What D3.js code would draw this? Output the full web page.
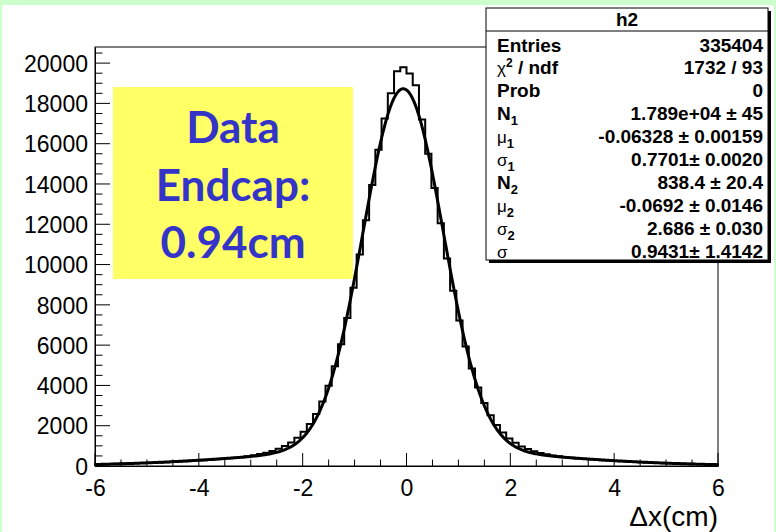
<!DOCTYPE html>
<html><head><meta charset="utf-8">
<script src="https://cdn.jsdelivr.net/npm/d3@7"></script>
<style>body{margin:0;background:#fff}svg{display:block}</style>
</head><body>
<svg id="c" width="776" height="532"></svg>
<script>
// ---- data ----
const xRange = [-6, 6];
const counts = [95, 98, 105, 112, 118, 126, 134, 143, 154, 165,
  176, 190, 206, 220, 236, 255, 272, 290, 310, 335,
  355, 380, 410, 440, 480, 530, 590, 660, 750, 860,
  990, 1170, 1400, 1700, 2080, 2580, 3200, 3990, 4950, 6050,
  7350, 8850, 10500, 12200, 13950, 15700, 17250, 18500, 19600, 19800,
  19490, 18900, 17200, 15500, 13800, 12050, 10300, 8700, 7220, 5930,
  4840, 3900, 3130, 2520, 2030, 1660, 1370, 1150, 970, 840,
  735, 650, 580, 525, 478, 438, 405, 377, 352, 330,
  308, 289, 270, 252, 235, 219, 204, 189, 176, 164,
  152, 142, 133, 124, 116, 109, 102, 96, 90, 86];
const fitN = [17890, 838.4];
const fitMu = [-0.06328, -0.0692];
const fitSigma = [0.7701, 2.686];
const xTicks = [-6, -4, -2, 0, 2, 4, 6];
const yTicks = [0, 2000, 4000, 6000, 8000, 10000, 12000, 14000, 16000, 18000, 20000];
const statTitle = "h2";
const statLabels = [["Entries",""],["χ","2","/ ndf"],["Prob",""],["N","1"],["μ","1"],["σ","1"],["N","2"],["μ","2"],["σ","2"],["σ",""]];
const statValues = ["335404","1732 / 93","0","1.789e+04 ± 45","-0.06328 ± 0.00159","0.7701± 0.0020","838.4 ± 20.4","-0.0692 ± 0.0146","2.686 ± 0.030","0.9431± 1.4142"];
const noteLines = ["Data", "Endcap:", "0.94cm"];
const xTitle = "Δx(cm)";

// ---- drawing ----
const svg = d3.select("#c");
const W = 776, H = 532;
const L = 95, R = 718, T = 47, B = 466;
const x = d3.scaleLinear().domain(xRange).range([L, R]);
const y = d3.scaleLinear().domain([0, 20800]).range([B, T]);
const font = "'Liberation Sans', Arial, Helvetica, sans-serif";

svg.append("rect").attr("width", W).attr("height", H).attr("fill", "#fff");
// green slide border
svg.append("rect").attr("x", 0).attr("y", 0).attr("width", W).attr("height", 5).attr("fill", "#ccffcc");
svg.append("rect").attr("x", 0).attr("y", 0).attr("width", 2).attr("height", H).attr("fill", "#ccffcc");
svg.append("rect").attr("x", W - 2).attr("y", 0).attr("width", 2).attr("height", H).attr("fill", "#ccffcc");

// frame
svg.append("rect").attr("x", L).attr("y", T).attr("width", R - L).attr("height", B - T)
  .attr("fill", "none").attr("stroke", "#000").attr("stroke-width", 1);

// axes
const xAxis = d3.axisBottom(x).tickValues(xTicks).tickSize(0).tickFormat(d => String(d));
const gx = svg.append("g").attr("transform", `translate(0,${B})`).call(xAxis);
gx.select(".domain").attr("stroke", "#000");
gx.selectAll("text").attr("font-family", font).attr("font-size", 23).attr("fill", "#000").attr("dy", 0).attr("y", 30);
const xMinor = d3.range(xRange[0], xRange[1] + 0.001, 0.5);
svg.append("g").selectAll("line").data(xMinor).join("line")
  .attr("x1", d => x(d)).attr("x2", d => x(d))
  .attr("y1", B).attr("y2", d => B - (Math.abs(d % 2) < 1e-9 ? 13 : 6.5))
  .attr("stroke", "#000").attr("stroke-width", 1);

const yAxis = d3.axisLeft(y).tickValues(yTicks).tickSize(0).tickFormat(d => String(d));
const gy = svg.append("g").attr("transform", `translate(${L},0)`).call(yAxis);
gy.select(".domain").attr("stroke", "#000");
gy.selectAll("text").attr("font-family", font).attr("font-size", 23).attr("fill", "#000").attr("x", -7).attr("dy", "0.36em");
const yMinor = d3.range(0, 20800, 500);
svg.append("g").selectAll("line").data(yMinor).join("line")
  .attr("y1", d => y(d)).attr("y2", d => y(d))
  .attr("x1", L).attr("x2", d => L + (d % 2000 === 0 ? 15 : 7.5))
  .attr("stroke", "#000").attr("stroke-width", 1);

svg.append("text").attr("x", R).attr("y", 526).attr("text-anchor", "end")
  .attr("font-family", font).attr("font-size", 28).text(xTitle);

// yellow note box
const note = svg.append("g");
note.append("rect").attr("x", 113).attr("y", 87).attr("width", 240).attr("height", 192).attr("fill", "#ffff66");
note.selectAll("text").data(noteLines).join("text")
  .attr("x", 233).attr("y", (d, i) => 143 + i * 57.5).attr("text-anchor", "middle")
  .attr("font-family", "Lato, 'Open Sans', sans-serif").attr("font-weight", "bold")
  .attr("font-size", 44).attr("fill", "#3434c8").text(d => d);

// histogram
const nb = counts.length;
const bw = (xRange[1] - xRange[0]) / nb;
const pts = [[x(xRange[0]), y(0)]];
counts.forEach((c, i) => {
  const x0 = xRange[0] + i * bw, x1 = x0 + bw;
  pts.push([x(x0), y(c)]); pts.push([x(x1), y(c)]);
});
pts.push([x(xRange[1]), y(0)]);
svg.append("path").attr("d", d3.line()(pts)).attr("fill", "none")
  .attr("stroke", "#000").attr("stroke-width", 2);

// fit function (double gaussian from fit parameters)
const f = v => fitN.reduce((s, n, k) => s + n * Math.exp(-0.5 * Math.pow((v - fitMu[k]) / fitSigma[k], 2)), 0);
const fx = d3.range(xRange[0], xRange[1] + 1e-9, 0.02);
svg.append("path").attr("d", d3.line().x(d => x(d)).y(d => y(f(d)))(fx))
  .attr("fill", "none").attr("stroke", "#000").attr("stroke-width", 3).attr("stroke-linejoin", "round");

// stats box
const sb = { x: 486, y: 8, w: 282, h: 252 };
svg.append("rect").attr("x", sb.x + 3).attr("y", sb.y + 3).attr("width", sb.w).attr("height", sb.h).attr("fill", "#000");
svg.append("rect").attr("x", sb.x).attr("y", sb.y).attr("width", sb.w).attr("height", sb.h)
  .attr("fill", "#fff").attr("stroke", "#000").attr("stroke-width", 1);
svg.append("line").attr("x1", sb.x).attr("x2", sb.x + sb.w).attr("y1", 31).attr("y2", 31).attr("stroke", "#000");
svg.append("text").attr("x", sb.x + sb.w / 2).attr("y", 26).attr("text-anchor", "middle")
  .attr("font-family", font).attr("font-weight", "bold").attr("font-size", 19).text(statTitle);

const rowY = i => 51.5 + i * 22.9;
statLabels.forEach((lab, i) => {
  const t = svg.append("text").attr("x", 497).attr("y", rowY(i)).attr("font-family", font)
    .attr("font-size", 19).attr("font-weight", "bold");
  const main = lab[0];
  const greek = /[μσχ]/.test(main);
  t.append("tspan").attr("font-weight", greek ? "normal" : "bold")
    .attr("font-size", greek ? 17 : 19).text(main);
  if (lab[1]) {
    if (main === "χ") {
      t.append("tspan").attr("font-size", 12).attr("dy", -7).text(lab[1]);
      t.append("tspan").attr("dy", 7).text(" " + lab[2]);
    } else {
      t.append("tspan").attr("font-size", 13).attr("dy", 5).text(lab[1]);
    }
  }
});
svg.selectAll(".sv").data(statValues).join("text").attr("class", "sv")
  .attr("x", 763).attr("y", (d, i) => rowY(i)).attr("text-anchor", "end")
  .attr("font-family", font).attr("font-weight", "bold").attr("font-size", 19).text(d => d);
</script>
</body></html>
